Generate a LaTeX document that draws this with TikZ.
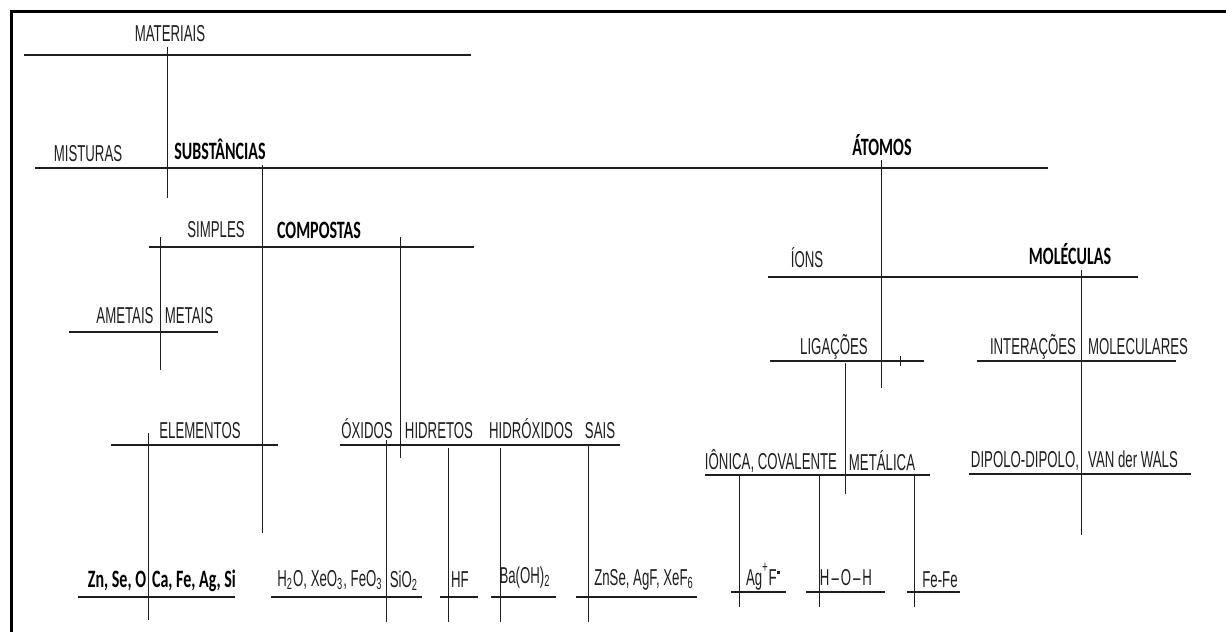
\documentclass[tikz,border=0pt]{standalone}
\usepackage{fontspec}
\usepackage{tikz}
\setmainfont[FakeStretch=0.575]{Liberation Sans}
\newfontfamily\boldfont[FakeStretch=0.64]{Carlito}
\definecolor{inkgray}{RGB}{30,30,30}

\begin{document}
\begin{tikzpicture}[
    x=0.5pt, y=-0.5pt,
    lbl/.style={anchor=base, inner sep=0pt, text=inkgray, font=\fontsize{11.5}{13}\selectfont},
    hd/.style={anchor=base, inner sep=0pt, text=black, font=\boldfont\bfseries\fontsize{12.5}{15}\selectfont},
    bar/.style={line width=0.75pt, inkgray},
    stem/.style={line width=0.45pt, inkgray}
]
\useasboundingbox (0,0) rectangle (1226,632);

% frame
\draw[line width=1.5pt, black] (11,632) -- (11,11) -- (1226,11);

% Materiais
\node[lbl] (materiais) at (170,41) {MATERIAIS};
\draw[bar] (24,55) -- (471,55);
\draw[stem] (167,47) -- (167,198);

% Misturas / Substancias ... Atomos
\node[lbl] (misturas) at (88,161) {MISTURAS};
\node[hd] (substancias) at (220,159) {SUBST\^ANCIAS};
\node[hd] (atomos) at (882,155) {\'ATOMOS};
\draw[bar] (35,168) -- (1048,168);
\draw[stem] (262,165) -- (262,533);
\draw[stem] (881,160) -- (881,388);

% Simples / Compostas
\node[lbl] (simples) at (216,237) {SIMPLES};
\node[hd] (compostas) at (319,238) {COMPOSTAS};
\draw[bar] (149,247) -- (474,247);
\draw[stem] (160,237) -- (160,370);
\draw[stem] (400,237) -- (400,458);

% Ametais / Metais
\node[lbl] (ametais) at (125,323) {AMETAIS};
\node[lbl] (metais) at (189,323) {METAIS};
\draw[bar] (69,332) -- (218,332);

% Elementos
\node[lbl] (elementos) at (200,438) {ELEMENTOS};
\draw[bar] (111,445) -- (278,445);
\draw[stem] (148,433) -- (148,620);

% Oxidos, hidretos, hidroxidos, sais
\node[lbl] (oxidos) at (367,438) {\'OXIDOS};
\node[lbl] (hidretos) at (439,438) {HIDRETOS};
\node[lbl] (hidroxidos) at (531,438) {HIDR\'OXIDOS};
\node[lbl] (sais) at (600,438) {SAIS};
\draw[bar] (340,445) -- (620,445);
\draw[stem] (386,440) -- (386,622);
\draw[stem] (448,448) -- (448,622);
\draw[stem] (500,448) -- (500,622);
\draw[stem] (588,445) -- (588,622);

% Ions / Moleculas
\node[lbl] (ions) at (807,267) {\'IONS};
\node[hd] (moleculas) at (1070,264) {MOL\'ECULAS};
\draw[bar] (768,277) -- (1138,277);
\draw[stem] (1081,270) -- (1081,535);

% Ligacoes
\node[lbl] (ligacoes) at (834,354) {LIGA\c{C}\~OES};
\draw[bar] (770,361) -- (924,361);
\draw[stem] (845,363) -- (845,494);
\draw[stem] (900,356) -- (900,366);

% Interacoes moleculares
\node[lbl] (interacoes) at (1033,354) {INTERA\c{C}\~OES};
\node[lbl] (moleculares) at (1138,354) {MOLECULARES};
\draw[bar] (977,361) -- (1176,361);

% tipos de ligacao
\node[lbl] (ionica) at (771,469) {I\^ONICA, COVALENTE};
\node[lbl] (metalica) at (882,470) {MET\'ALICA};
\draw[bar] (705,475) -- (930,475);
\draw[stem] (739,475) -- (739,607);
\draw[stem] (819,475) -- (819,607);
\draw[stem] (914,475) -- (914,607);

% tipos de interacao
\node[lbl] (dipolo) at (1025,467) {DIPOLO-DIPOLO,};
\node[lbl] (vanderwals) at (1133,467) {VAN der WALS};
\draw[bar] (969,474) -- (1191,474);

% exemplos
\node[hd] (ex1) at (117,587) {Zn, Se, O};
\node[hd] (ex2) at (194,587) {Ca, Fe, Ag, Si};
\draw[bar] (78,597) -- (235,597);
\node[lbl] (ex3) at (330,586) {H\textsubscript{2}O, XeO\textsubscript{3}, FeO\textsubscript{3}};
\node[lbl] (ex4) at (404,587) {SiO\textsubscript{2}};
\draw[bar] (271,597) -- (422,597);
\node[lbl] (ex5) at (460,587) {HF};
\draw[bar] (440,597) -- (478,597);
\node[lbl] (ex6) at (525,583) {Ba(OH)\textsubscript{2}};
\draw[bar] (491,597) -- (556,597);
\node[lbl] (ex7) at (644,585) {ZnSe, AgF, XeF\textsubscript{6}};
\draw[bar] (576,597) -- (697,597);
\node[lbl] (ex8) at (763,585) {Ag\raisebox{0.3ex}{\textsuperscript{+}}F\raisebox{0.9ex}{\rule{1.6pt}{1.6pt}}};
\draw[bar] (731,592) -- (786,592);
\node[lbl] (ex9) at (846,585) {H\kern1pt--\kern1pt O\kern1pt--\kern1pt H};
\draw[bar] (806,592) -- (885,592);
\node[lbl] (ex10) at (940,587) {Fe-Fe};
\draw[bar] (907,592) -- (960,592);

\end{tikzpicture}
\end{document}
